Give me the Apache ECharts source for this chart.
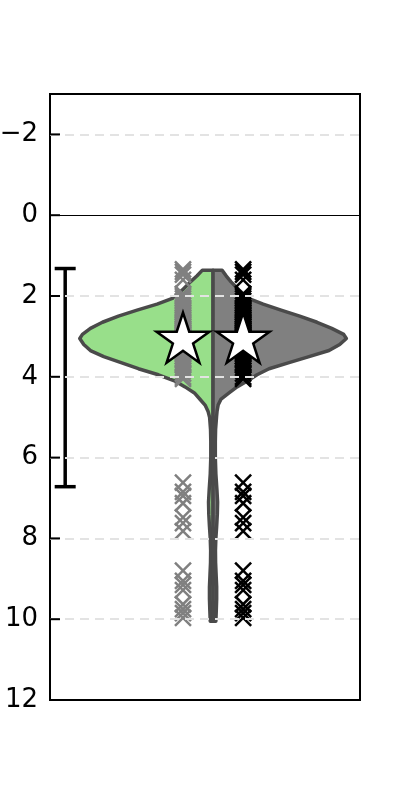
<!DOCTYPE html>
<html>
<head>
<meta charset="utf-8">
<script src="https://cdn.jsdelivr.net/npm/echarts@6/dist/echarts.min.js"></script>
<style>
  html, body { margin: 0; padding: 0; background: #fff; }
  #chart { width: 400px; height: 786px; }
</style>
</head>
<body>
<div id="chart"></div>
<script>
// y positions of the density samples
var violinVals = [1.36, 1.5, 1.65, 1.85, 2.05, 2.2, 2.35, 2.5, 2.65, 2.8, 2.95, 3.05, 3.2, 3.35, 3.5, 3.65, 3.8, 3.95, 4.1, 4.25, 4.4, 4.55, 4.7, 4.85, 5.0, 5.3, 5.6, 6.0, 6.4, 6.8, 7.1, 7.4, 7.7, 8.0, 8.3, 8.6, 8.9, 9.2, 9.5, 9.8, 10.05];
// normalised density, left (green) half
var densityLeft = [0.08, 0.12, 0.17, 0.23, 0.30, 0.42, 0.57, 0.71, 0.83, 0.92, 0.98, 1.0, 0.97, 0.92, 0.82, 0.69, 0.56, 0.41, 0.29, 0.21, 0.14, 0.10, 0.06, 0.038, 0.026, 0.019, 0.017, 0.017, 0.021, 0.029, 0.034, 0.032, 0.027, 0.021, 0.018, 0.019, 0.023, 0.027, 0.027, 0.024, 0.021];
// normalised density, right (grey) half
var densityRight = [0.068, 0.098, 0.135, 0.195, 0.26, 0.376, 0.51, 0.65, 0.78, 0.89, 0.98, 1.0, 0.95, 0.87, 0.72, 0.57, 0.42, 0.33, 0.26, 0.18, 0.12, 0.06, 0.038, 0.03, 0.026, 0.019, 0.017, 0.017, 0.021, 0.029, 0.034, 0.032, 0.027, 0.021, 0.018, 0.019, 0.023, 0.027, 0.027, 0.024, 0.021];
// individual observations (same set for both strips)
var obsValues = [1.34, 1.4, 1.47, 1.6, 1.95, 2.0, 2.06, 2.12, 2.18, 2.24, 2.3, 2.35, 2.4, 2.45, 2.5, 2.55, 2.6, 2.64, 2.68, 2.72, 2.76, 2.8, 2.84, 2.87, 2.9, 2.93, 2.96, 2.99, 3.02, 3.05, 3.08, 3.11, 3.14, 3.17, 3.2, 3.24, 3.28, 3.32, 3.36, 3.4, 3.45, 3.5, 3.55, 3.6, 3.66, 3.72, 3.78, 3.85, 3.92, 4.0, 4.05,
  6.62, 6.85, 6.95, 7.13, 7.48, 7.62, 7.82, 8.8, 9.05, 9.15, 9.28, 9.63, 9.75, 9.85, 9.97];
var meanVal = 3.08;
var errRange = [1.32, 6.72];
var yTicks = [-2, 0, 2, 4, 6, 8, 10, 12];
var gridVals = [-2, 2, 4, 6, 8, 10];

// layout (x axis units, one unit = full plot width)
var violinX = 0, greyX = -0.097, blackX = 0.097, errX = -0.477, halfWidth = 0.43;
var xMin = -0.526, xMax = 0.474;

var starPath = 'path://M0,-1L0.2245,-0.309L0.951,-0.309L0.363,0.118L0.588,0.809L0,0.382L-0.588,0.809L-0.363,0.118L-0.951,-0.309L-0.2245,-0.309Z';
var xPath = 'path://M0,0L10,10M10,0L0,10';

var chart = echarts.init(document.getElementById('chart'));

function halfPoly(api, dens, sign) {
  var pts = [api.coord([violinX, violinVals[0]])];
  for (var i = 0; i < violinVals.length; i++) {
    pts.push(api.coord([violinX + sign * dens[i] * halfWidth, violinVals[i]]));
  }
  pts.push(api.coord([violinX, violinVals[violinVals.length - 1]]));
  return pts;
}

chart.setOption({
  animation: false,
  grid: {
    left: 50, right: 40, top: 94, bottom: 86, outerBoundsMode: 'none', containLabel: false,
    show: true, borderColor: '#000', borderWidth: 2, backgroundColor: 'transparent'
  },
  xAxis: {
    type: 'value', min: xMin, max: xMax,
    axisLine: { show: false, onZero: false }, axisTick: { show: false }, axisLabel: { show: false }, splitLine: { show: false }
  },
  yAxis: {
    type: 'value', inverse: true, min: -3, max: 12,
    axisLine: { show: true, onZero: false, lineStyle: { color: '#000', width: 2 } },
    axisTick: { show: false },
    axisLabel: {
      customValues: yTicks, margin: 12, color: '#000', fontSize: 26, fontFamily: 'DejaVu Sans',
      formatter: function (v) { return String(v).replace('-', '\u2212'); }
    },
    splitLine: { show: false }
  },
  series: [
    {
      // grid lines + zero line
      type: 'line', data: [], z: 1, silent: true,
      markLine: {
        symbol: 'none', silent: true, label: { show: false },
        data: gridVals.map(function (v) {
          return { yAxis: v, lineStyle: { color: '#e3e3e3', width: 2, type: [9, 6] } };
        }).concat([{ yAxis: 0, lineStyle: { color: '#000', width: 1, type: 'solid' } }])
      }
    },
    {
      // inward ticks on the y axis
      type: 'custom', z: 5, silent: true, data: yTicks.map(function (v) { return [xMin, v]; }),
      renderItem: function (params, api) {
        var p = api.coord([api.value(0), api.value(1)]);
        return { type: 'line', shape: { x1: p[0], y1: p[1], x2: p[0] + 10, y2: p[1] }, style: { stroke: '#000', lineWidth: 2 } };
      }
    },
    {
      // split violin
      type: 'custom', z: 2, data: [[violinX, meanVal]],
      renderItem: function (params, api) {
        var edge = { stroke: '#4a4a4a', lineWidth: 3.5, lineJoin: 'round' };
        return {
          type: 'group',
          children: [
            { type: 'polygon', shape: { points: halfPoly(api, densityLeft, -1) }, style: Object.assign({ fill: '#98df8a' }, edge) },
            { type: 'polygon', shape: { points: halfPoly(api, densityRight, 1) }, style: Object.assign({ fill: '#808080' }, edge) }
          ]
        };
      }
    },
    {
      // error bar
      type: 'custom', z: 2, data: [[errX, errRange[0], errRange[1]]],
      renderItem: function (params, api) {
        var top = api.coord([api.value(0), api.value(1)]);
        var bot = api.coord([api.value(0), api.value(2)]);
        var st = { stroke: '#000', lineWidth: 3.5 };
        return {
          type: 'group',
          children: [
            { type: 'line', shape: { x1: top[0], y1: top[1], x2: bot[0], y2: bot[1] }, style: st },
            { type: 'line', shape: { x1: top[0] - 10.5, y1: top[1], x2: top[0] + 10.5, y2: top[1] }, style: st },
            { type: 'line', shape: { x1: bot[0] - 10.5, y1: bot[1], x2: bot[0] + 10.5, y2: bot[1] }, style: st }
          ]
        };
      }
    },
    {
      type: 'scatter', z: 3, symbol: xPath, symbolSize: 16,
      itemStyle: { color: 'transparent', borderColor: '#808080', borderWidth: 2.5, opacity: 1 },
      data: obsValues.map(function (v) { return [greyX, v]; })
    },
    {
      type: 'scatter', z: 3, symbol: xPath, symbolSize: 16,
      itemStyle: { color: 'transparent', borderColor: '#000', borderWidth: 2.5, opacity: 1 },
      data: obsValues.map(function (v) { return [blackX, v]; })
    },
    {
      type: 'scatter', z: 4, symbol: starPath, symbolSize: [53, 50], symbolOffset: [0, -2],
      itemStyle: { color: '#fff', borderColor: '#000', borderWidth: 2.5, opacity: 1 },
      data: [[greyX, meanVal], [blackX, meanVal]]
    }
  ]
});
</script>
</body>
</html>
